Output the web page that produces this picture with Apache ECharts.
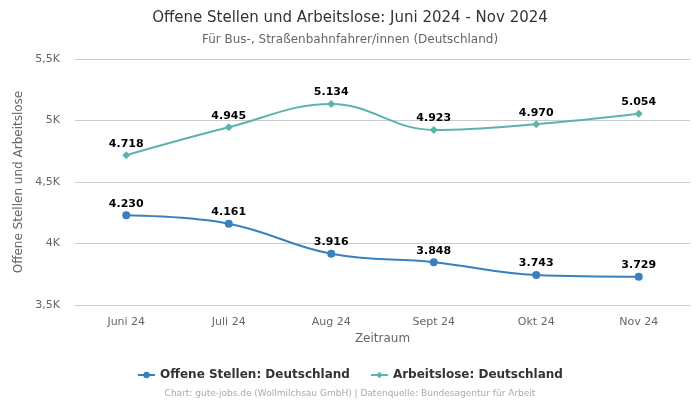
<!DOCTYPE html>
<html><head><meta charset="utf-8">
<script src="https://cdn.jsdelivr.net/npm/echarts@6/dist/echarts.min.js"></script>
<style>html,body{margin:0;padding:0;background:#fff}#c{width:700px;height:400px}</style>
</head><body><div id="c"></div>
<script>
const categories = ["Juni 24", "Juli 24", "Aug 24", "Sept 24", "Okt 24", "Nov 24"];
const offeneStellen = [4230, 4161, 3916, 3848, 3743, 3729];
const arbeitslose = [4718, 4945, 5134, 4923, 4970, 5054];
const seriesNames = ["Offene Stellen: Deutschland", "Arbeitslose: Deutschland"];

const font = "DejaVu Sans";
const fmtDot = v => String(v).replace(/\B(?=(\d{3})+(?!\d))/g, ".");
const fmtK = v => (v / 1000).toString().replace(".", ",") + "K";

const chart = echarts.init(document.getElementById('c'), null, {renderer: 'canvas'});
const label = {show: true, position: 'top', distance: 2, fontFamily: font, fontSize: 11, fontWeight: 'bold', color: '#000', formatter: p => fmtDot(p.value)};
chart.setOption({
  animation: false,
  textStyle: {fontFamily: font},
  title: [
    {text: "Offene Stellen und Arbeitslose: Juni 2024 - Nov 2024", left: 'center', top: 6,
     textStyle: {fontFamily: font, fontSize: 15, fontWeight: 'normal', color: '#333'}},
    {text: "Für Bus-, Straßenbahnfahrer/innen (Deutschland)", left: 'center', top: 29,
     textStyle: {fontFamily: font, fontSize: 12, fontWeight: 'normal', color: '#666'}},
    {text: "Chart: gute-jobs.de (Wollmilchsau GmbH) | Datenquelle: Bundesagentur für Arbeit", left: 'center', top: 384,
     textStyle: {fontFamily: font, fontSize: 9, fontWeight: 'normal', color: '#aaa'}}
  ],
  legend: {
    top: 364, left: 'center', itemGap: 20, itemWidth: 17, itemHeight: 8,
    textStyle: {fontFamily: font, fontSize: 12, fontWeight: 'bold', color: '#333'},
    data: seriesNames
  },
  grid: {left: 75, right: 10, top: 59, bottom: 95, containLabel: false},
  xAxis: {
    type: 'category', data: categories, boundaryGap: true,
    name: "Zeitraum", nameLocation: 'middle', nameGap: 28,
    nameTextStyle: {fontFamily: font, fontSize: 12, color: '#666'},
    axisLine: {show: true, lineStyle: {color: '#ccc'}},
    axisTick: {show: false},
    axisLabel: {fontFamily: font, fontSize: 11, color: '#666', margin: 12}
  },
  yAxis: {
    type: 'value', min: 3500, max: 5500, interval: 500,
    name: "Offene Stellen und Arbeitslose", nameLocation: 'middle', nameGap: 47,
    nameTextStyle: {fontFamily: font, fontSize: 12, color: '#666'},
    axisLine: {show: false}, axisTick: {show: false},
    splitLine: {lineStyle: {color: '#ccc'}},
    axisLabel: {fontFamily: font, fontSize: 11, color: '#666', margin: 15, formatter: fmtK}
  },
  series: [
    {name: seriesNames[0], type: 'line', data: offeneStellen, smooth: 0.4,
     symbol: 'circle', symbolSize: 8, color: '#3a7fbf',
     lineStyle: {width: 2, color: '#3a7fbf'}, itemStyle: {color: '#3a7fbf'}, label},
    {name: seriesNames[1], type: 'line', data: arbeitslose, smooth: 0.4,
     symbol: 'diamond', symbolSize: 8, color: '#5ab4ad',
     lineStyle: {width: 2, color: '#5ab4ad'}, itemStyle: {color: '#5ab4ad'}, label}
  ]
});
</script></body></html>
